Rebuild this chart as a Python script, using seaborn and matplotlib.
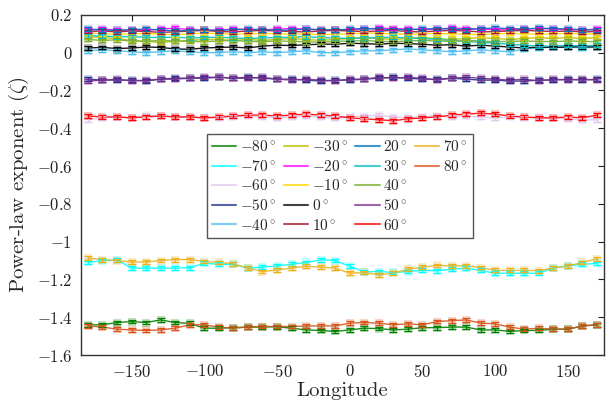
import numpy as np
import pandas as pd
import matplotlib
matplotlib.use("Agg")
import matplotlib.pyplot as plt
import seaborn as sns
from matplotlib.ticker import FuncFormatter, FixedLocator
from matplotlib.lines import Line2D

# ---------------- data ----------------
longitudes = list(range(-180, 180, 10))  # 36 points
latitudes = [-80, -70, -60, -50, -40, -30, -20, -10, 0, 10, 20, 30, 40, 50, 60, 70, 80]

lat_m80 = [-1.44, -1.44, -1.428, -1.423, -1.428, -1.414, -1.428, -1.432, -1.458, -1.458, -1.455, -1.452,
           -1.452, -1.45, -1.458, -1.467, -1.47, -1.475, -1.467, -1.458, -1.46, -1.467, -1.463, -1.455,
           -1.455, -1.452, -1.452, -1.467, -1.467, -1.475, -1.47, -1.47, -1.463, -1.463, -1.446, -1.44]
lat_80 = [-1.446, -1.452, -1.463, -1.467, -1.47, -1.467, -1.458, -1.44, -1.44, -1.452, -1.458, -1.452,
          -1.449, -1.449, -1.449, -1.446, -1.446, -1.446, -1.431, -1.428, -1.431, -1.44, -1.435, -1.44,
          -1.423, -1.418, -1.414, -1.431, -1.435, -1.452, -1.463, -1.458, -1.463, -1.463, -1.446, -1.44]
lat_m70 = [-1.11, -1.10, -1.096, -1.14, -1.14, -1.14, -1.14, -1.138, -1.114, -1.12, -1.12, -1.14,
           -1.135, -1.128, -1.12, -1.11, -1.096, -1.10, -1.13, -1.16, -1.158, -1.163, -1.158, -1.152,
           -1.154, -1.146, -1.14, -1.152, -1.167, -1.167, -1.167, -1.167, -1.14, -1.128, -1.12, -1.115]
lat_70 = [-1.087, -1.095, -1.10, -1.108, -1.108, -1.10, -1.095, -1.095, -1.105, -1.11, -1.117, -1.14,
          -1.158, -1.15, -1.14, -1.13, -1.135, -1.14, -1.167, -1.163, -1.176, -1.167, -1.146, -1.135,
          -1.126, -1.128, -1.128, -1.137, -1.152, -1.152, -1.152, -1.154, -1.14, -1.128, -1.11, -1.09]
lat_m60 = [-0.355, -0.345, -0.34, -0.345, -0.33, -0.335, -0.34, -0.34, -0.345, -0.345, -0.34, -0.335,
           -0.34, -0.345, -0.34, -0.335, -0.34, -0.345, -0.34, -0.335, -0.33, -0.34, -0.345, -0.34,
           -0.335, -0.34, -0.335, -0.34, -0.345, -0.34, -0.345, -0.34, -0.345, -0.35, -0.355, -0.355]
lat_60 = [-0.335, -0.34, -0.34, -0.345, -0.34, -0.335, -0.34, -0.34, -0.345, -0.34, -0.335, -0.33,
          -0.33, -0.335, -0.33, -0.325, -0.33, -0.335, -0.345, -0.35, -0.355, -0.36, -0.35, -0.345,
          -0.34, -0.33, -0.325, -0.32, -0.325, -0.335, -0.34, -0.345, -0.345, -0.34, -0.345, -0.33]
lat_m50 = [-0.14, -0.145, -0.145, -0.145, -0.15, -0.14, -0.135, -0.135, -0.135, -0.13, -0.135, -0.13,
           -0.135, -0.14, -0.14, -0.145, -0.15, -0.145, -0.145, -0.14, -0.135, -0.13, -0.135, -0.14,
           -0.14, -0.135, -0.14, -0.145, -0.145, -0.15, -0.15, -0.145, -0.145, -0.14, -0.145, -0.14]
lat_50 = [-0.15, -0.145, -0.14, -0.15, -0.145, -0.14, -0.14, -0.135, -0.13, -0.13, -0.135, -0.135,
          -0.13, -0.14, -0.145, -0.14, -0.145, -0.15, -0.14, -0.14, -0.13, -0.135, -0.13, -0.135,
          -0.145, -0.135, -0.13, -0.135, -0.14, -0.145, -0.14, -0.15, -0.14, -0.145, -0.14, -0.145]
lat_m40 = [0.01, 0.015, 0.01, 0.005, 0.0, 0.005, 0.01, 0.005, 0.0, 0.0, 0.005, 0.0,
           0.005, 0.0, 0.005, 0.01, 0.0, 0.0, 0.005, 0.01, 0.01, 0.015, 0.02, 0.015,
           0.01, 0.005, 0.01, 0.015, 0.01, 0.005, 0.02, 0.025, 0.03, 0.03, 0.025, 0.03]
lat_m30 = [0.085, 0.08, 0.075, 0.065, 0.06, 0.055, 0.06, 0.065, 0.07, 0.07, 0.065, 0.07,
           0.065, 0.07, 0.075, 0.07, 0.065, 0.07, 0.075, 0.08, 0.075, 0.07, 0.075, 0.08,
           0.075, 0.07, 0.075, 0.08, 0.075, 0.07, 0.075, 0.08, 0.075, 0.08, 0.075, 0.08]
lat_m20 = [0.12, 0.125, 0.12, 0.12, 0.118, 0.125, 0.13, 0.122, 0.118, 0.12, 0.125, 0.122,
           0.12, 0.125, 0.128, 0.125, 0.12, 0.118, 0.12, 0.125, 0.13, 0.128, 0.125, 0.122,
           0.125, 0.13, 0.128, 0.125, 0.122, 0.12, 0.125, 0.128, 0.125, 0.122, 0.12, 0.125]
lat_m10 = [0.105, 0.1, 0.098, 0.1, 0.102, 0.098, 0.095, 0.1, 0.105, 0.1, 0.098, 0.1,
           0.102, 0.1, 0.098, 0.1, 0.095, 0.098, 0.1, 0.105, 0.102, 0.1, 0.098, 0.1,
           0.102, 0.1, 0.098, 0.095, 0.1, 0.102, 0.1, 0.098, 0.1, 0.102, 0.1, 0.098]
lat_0 = [0.025, 0.028, 0.022, 0.025, 0.03, 0.028, 0.02, 0.018, 0.025, 0.028, 0.03, 0.025,
         0.035, 0.04, 0.038, 0.042, 0.045, 0.045, 0.05, 0.048, 0.045, 0.05, 0.048, 0.045,
         0.04, 0.042, 0.035, 0.04, 0.035, 0.03, 0.025, 0.03, 0.028, 0.03, 0.032, 0.03]
lat_10 = [0.112, 0.115, 0.11, 0.115, 0.112, 0.108, 0.11, 0.115, 0.118, 0.112, 0.11, 0.115,
          0.118, 0.115, 0.112, 0.11, 0.115, 0.118, 0.115, 0.112, 0.115, 0.118, 0.112, 0.11,
          0.115, 0.118, 0.115, 0.11, 0.112, 0.115, 0.118, 0.115, 0.112, 0.115, 0.11, 0.112]
lat_20 = [0.125, 0.12, 0.118, 0.122, 0.125, 0.12, 0.115, 0.118, 0.12, 0.118, 0.122, 0.125,
          0.122, 0.118, 0.12, 0.125, 0.122, 0.12, 0.125, 0.128, 0.125, 0.12, 0.122, 0.125,
          0.128, 0.125, 0.122, 0.128, 0.13, 0.128, 0.125, 0.13, 0.128, 0.125, 0.122, 0.12]
lat_30 = [0.09, 0.088, 0.085, 0.085, 0.082, 0.08, 0.082, 0.078, 0.08, 0.082, 0.078, 0.075,
          0.078, 0.08, 0.082, 0.085, 0.08, 0.078, 0.075, 0.078, 0.08, 0.082, 0.078, 0.075,
          0.07, 0.065, 0.06, 0.055, 0.05, 0.045, 0.04, 0.035, 0.035, 0.04, 0.035, 0.04]
lat_40 = [0.07, 0.065, 0.068, 0.062, 0.06, 0.065, 0.062, 0.06, 0.058, 0.062, 0.065, 0.06,
          0.058, 0.062, 0.06, 0.058, 0.055, 0.06, 0.062, 0.065, 0.06, 0.058, 0.062, 0.065,
          0.062, 0.06, 0.065, 0.062, 0.058, 0.06, 0.062, 0.06, 0.058, 0.062, 0.06, 0.058]

series = {-80: lat_m80, -70: lat_m70, -60: lat_m60, -50: lat_m50, -40: lat_m40, -30: lat_m30,
          -20: lat_m20, -10: lat_m10, 0: lat_0, 10: lat_10, 20: lat_20, 30: lat_30, 40: lat_40,
          50: lat_50, 60: lat_60, 70: lat_70, 80: lat_80}
error_halfwidth = [0.01] * len(longitudes)

colors = {-80: "#008000", -70: "#00FFFF", -60: "#E0C8F0", -50: "#1F2F8F", -40: "#4DBEEE",
          -30: "#BFBF00", -20: "#FF00FF", -10: "#FFD700", 0: "#000000", 10: "#A2142F",
          20: "#0072BD", 30: "#00BFBF", 40: "#77AC30", 50: "#7E2F8E", 60: "#FF0000",
          70: "#EDB120", 80: "#D95319"}

rows = []
for lat in latitudes:
    for lon, v, e in zip(longitudes, series[lat], error_halfwidth):
        rows.append({"lon": lon, "lat": lat, "zeta": v, "err": e})
df = pd.DataFrame(rows)

# ---------------- style ----------------
sns.set_theme(style="white")
plt.rcParams.update({
    "font.family": "serif",
    "font.serif": ["cmr10", "DejaVu Serif"],
    "mathtext.fontset": "cm",
    "axes.formatter.use_mathtext": True,
    "axes.unicode_minus": True,
})

fig = plt.figure(figsize=(6.11, 4.03), dpi=100)
ax = fig.add_axes([0.132, 0.119, 0.857, 0.844])

palette = {lat: colors[lat] for lat in latitudes}
sns.lineplot(data=df, x="lon", y="zeta", hue="lat", palette=palette, hue_order=latitudes,
             ax=ax, lw=1.0, legend=False, alpha=0.9)

for lat in latitudes:
    sub = df[df["lat"] == lat]
    ax.errorbar(sub["lon"], sub["zeta"], yerr=sub["err"], fmt="none", ecolor=colors[lat],
                elinewidth=0.9, capsize=3, capthick=0.9, zorder=3)
    ax.plot(sub["lon"], sub["zeta"], ls="none", marker="s", ms=6, mew=0,
            color=colors[lat], alpha=0.25, zorder=2)

handles = [Line2D([0], [0], color=colors[lat], lw=1.5, alpha=0.75) for lat in latitudes]
labels = [f"${lat}^\\circ$" for lat in latitudes]
# pad with invisible entries so columns hold 5, 5, 5, 2 entries
for _ in range(3):
    handles.append(Line2D([0], [0], color="none", lw=0))
    labels.append("")
leg = ax.legend(handles, labels, loc="center", ncol=4, fontsize=11, frameon=True,
                fancybox=False, framealpha=1, edgecolor="#555555", handlelength=1.6,
                columnspacing=0.45, handletextpad=0.25, labelspacing=0.3,
                borderpad=0.35, bbox_to_anchor=(0.495, 0.497))
leg.get_frame().set_linewidth(1.0)

ax.set_xlim(-185, 175)
ax.set_ylim(-1.6, 0.2)
ax.xaxis.set_major_locator(FixedLocator([-150, -100, -50, 0, 50, 100, 150]))
ax.yaxis.set_major_locator(FixedLocator(np.round(np.arange(-1.6, 0.21, 0.2), 1)))

def fmt(v, pos):
    s = f"{v:g}"
    if s == "-0":
        s = "0"
    return f"${s}$"

ax.xaxis.set_major_formatter(FuncFormatter(fmt))
ax.yaxis.set_major_formatter(FuncFormatter(fmt))
ax.tick_params(direction="in", length=4, width=0.8, top=True, right=True,
               labelsize=12, colors="#222222", pad=6)
for sp in ax.spines.values():
    sp.set_color("#333333")
    sp.set_linewidth(1.0)

ax.set_xlabel("Longitude", fontsize=15, labelpad=1)
ax.set_ylabel("Power-law exponent ($\\zeta$)", fontsize=15, labelpad=4)

fig.savefig("out.png", dpi=100)
